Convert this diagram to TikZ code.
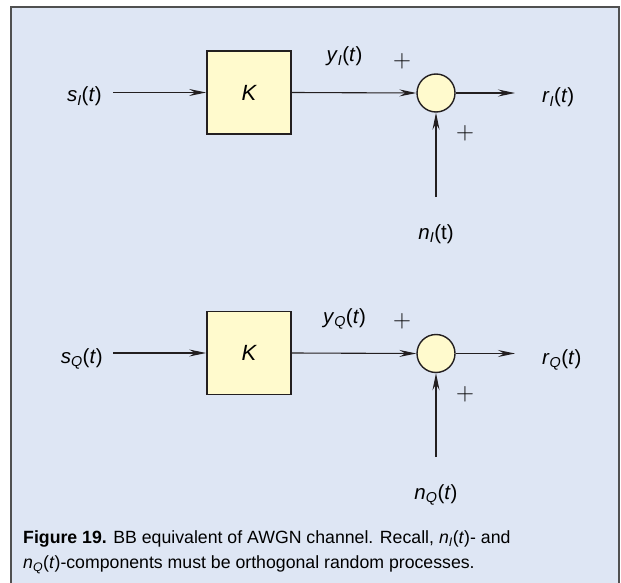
\documentclass[tikz,border=0pt]{standalone}
\usepackage{fontspec}
\setmainfont{Liberation Sans}
\usetikzlibrary{arrows.meta}
\definecolor{bgblue}{RGB}{222,230,244}
\definecolor{boxyellow}{RGB}{255,250,205}
\definecolor{inkdark}{RGB}{35,31,32}
\definecolor{framegray}{RGB}{80,80,80}
\newcommand{\lsub}[1]{\textsubscript{\itshape #1}}
\begin{document}
\begin{tikzpicture}[x=1pt,y=-1pt,
  lbl/.style={inner sep=0pt,font=\fontsize{20.5}{24}\selectfont},
  kbox/.style={draw=inkdark,line width=1.8pt,fill=boxyellow,minimum width=84pt,minimum height=83pt,inner sep=0pt,font=\fontsize{22}{24}\selectfont\itshape},
  sumnode/.style={circle,draw=inkdark,line width=1.4pt,fill=boxyellow,minimum size=38pt,inner sep=0pt},
  plussign/.style={inner sep=0pt,font=\fontsize{30}{30}\selectfont},
  arr/.style={draw=inkdark,line width=1.1pt,-{Stealth[length=17pt,width=7pt,inset=6pt]}},
  caption/.style={inner sep=0pt,anchor=base west,font=\fontsize{17.7}{22}\selectfont}]
\useasboundingbox (0,0) rectangle (621,583);
\fill[white] (0,0) rectangle (621,583);
\begin{scope}
\clip (0,0) rectangle (621,583);
\draw[framegray,line width=1.3pt,fill=bgblue] (11,7) rectangle (619,620);
\end{scope}

% ---- upper (I) branch ----
\node[lbl,anchor=base east] (sI) at (102,102) {\textit{s}\lsub{I}(\textit{t})};
\node[kbox] (K1) at (249,92.5) {K};
\node[sumnode] (S1) at (436,93) {};
\node[lbl,anchor=base west] (rI) at (542,103) {\textit{r}\lsub{I}(\textit{t})};
\node[lbl,anchor=base] (yI) at (344.5,62) {\textit{y}\lsub{I}(\textit{t})};
\node[plussign] (p1) at (402,61) {$+$};
\node[plussign] (p2) at (465,133) {$+$};
\node[lbl,anchor=base] (nI) at (436,239) {\textit{n}\lsub{I}(t)};
\coordinate (n1) at (436,197);
\coordinate (rIend) at (515,93);
\draw[arr] ([xshift=11pt]sI.east |- K1.west) -- (K1.west);
\draw[arr] (K1.east) -- (S1.west);
\draw[arr] (S1.east) -- (rIend);
\draw[arr] (n1) -- (S1.south);

% ---- lower (Q) branch ----
\node[lbl,anchor=base east] (sQ) at (103,363) {\textit{s}\lsub{Q}(\textit{t})};
\node[kbox] (K2) at (249,353) {K};
\node[sumnode] (S2) at (436,353.5) {};
\node[lbl,anchor=base west] (rQ) at (542,364) {\textit{r}\lsub{Q}(\textit{t})};
\node[lbl,anchor=base] (yQ) at (344.5,323) {\textit{y}\lsub{Q}(\textit{t})};
\node[plussign] (p3) at (402,321) {$+$};
\node[plussign] (p4) at (465,394) {$+$};
\node[lbl,anchor=base] (nQ) at (436,499) {\textit{n}\lsub{Q}(\textit{t})};
\coordinate (n2) at (436,457);
\coordinate (rQend) at (515,353.5);
\draw[arr] ([xshift=10pt]sQ.east |- K2.west) -- (K2.west);
\draw[arr] (K2.east) -- (S2.west);
\draw[arr] (S2.east) -- (rQend);
\draw[arr] (n2) -- (S2.south);

% ---- caption ----
\node[caption] (cap1) at (23,543.5) {\textbf{Figure 19.} BB equivalent of AWGN channel. Recall, \textit{n}\lsub{I}(\textit{t})- and};
\node[caption] (cap2) at (23,568.5) {\textit{n}\lsub{Q}(\textit{t})-components must be orthogonal random processes.};
\end{tikzpicture}
\end{document}
